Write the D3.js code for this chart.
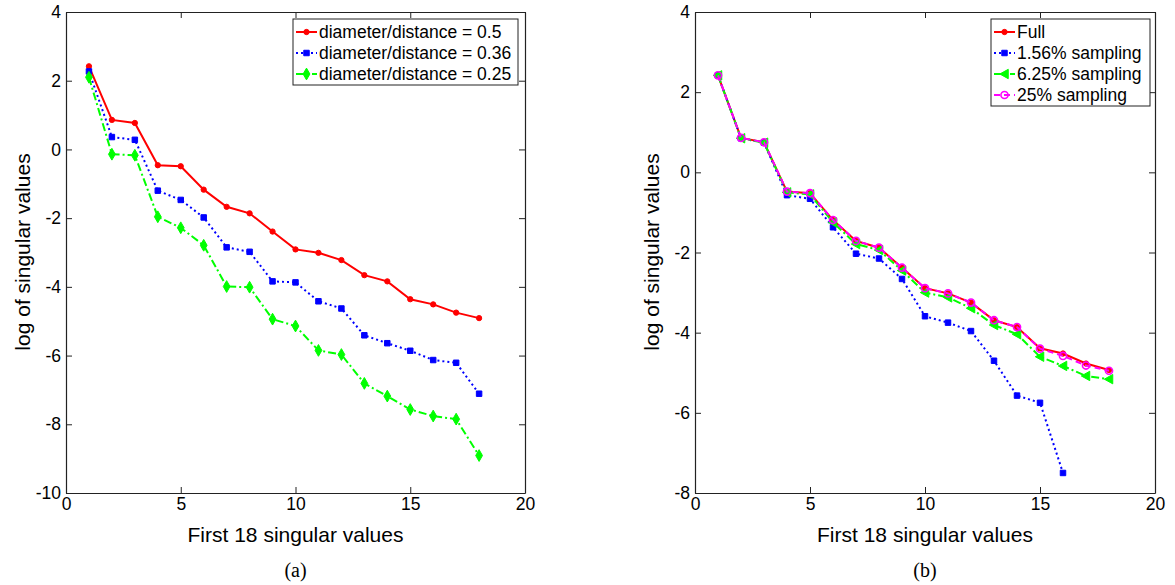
<!DOCTYPE html>
<html>
<head>
<meta charset="utf-8">
<script src="https://cdnjs.cloudflare.com/ajax/libs/d3/7.8.5/d3.min.js"></script>
<style>
  body { margin: 0; background: #fff; }
  text { font-family: "Liberation Sans", Arial, Helvetica, sans-serif; }
</style>
</head>
<body>
<script>
const width = 1175;
const height = 585;

// singular value index 1..18
const idx = d3.range(1, 19);

// panel (a): different diameter/distance ratios
const ratio50 = [2.42, 0.86, 0.77, -0.46, -0.49, -1.17, -1.67, -1.86, -2.39, -2.91, -3.01, -3.22, -3.66, -3.84, -4.36, -4.51, -4.75, -4.91];
const ratio36 = [2.27, 0.36, 0.28, -1.20, -1.47, -1.98, -2.85, -2.98, -3.84, -3.87, -4.42, -4.63, -5.41, -5.64, -5.86, -6.13, -6.21, -7.11];
const ratio25 = [2.10, -0.14, -0.17, -1.96, -2.28, -2.79, -3.99, -4.01, -4.94, -5.14, -5.85, -5.97, -6.81, -7.18, -7.57, -7.76, -7.85, -8.91];

// panel (b): sampling rates
const full = [2.42, 0.86, 0.75, -0.48, -0.52, -1.19, -1.71, -1.88, -2.38, -2.89, -3.02, -3.25, -3.69, -3.86, -4.39, -4.52, -4.77, -4.93];
const samp156 = [2.42, 0.85, 0.74, -0.57, -0.66, -1.37, -2.03, -2.15, -2.66, -3.59, -3.75, -3.96, -4.70, -5.57, -5.75, -7.50];
const samp625 = [2.42, 0.85, 0.74, -0.50, -0.55, -1.25, -1.79, -1.94, -2.45, -3.00, -3.12, -3.39, -3.81, -4.04, -4.60, -4.83, -5.08, -5.16];
const samp25 = [2.42, 0.86, 0.75, -0.48, -0.52, -1.19, -1.71, -1.88, -2.38, -2.89, -3.02, -3.25, -3.69, -3.86, -4.40, -4.58, -4.82, -4.95];

const xTicks = [0, 5, 10, 15, 20];
const yTicksA = [4, 2, 0, -2, -4, -6, -8, -10];
const yTicksB = [4, 2, 0, -2, -4, -6, -8];

const svg = d3.select('body').append('svg')
  .attr('width', width)
  .attr('height', height);

// marker shapes
const leftTri = { draw(ctx, size) { const r = Math.sqrt(size) * 0.7; ctx.moveTo(-r, 0); ctx.lineTo(r * 0.8, -r); ctx.lineTo(r * 0.8, r); ctx.closePath(); } };

const styles = {
  red:     { color: '#ff0000', dash: null,       sym: d3.symbolCircle,  size: 22, fill: true },
  blue:    { color: '#0000ff', dash: '2,3',      sym: d3.symbolSquare,  size: 30, fill: true },
  greenD:  { color: '#00ff00', dash: '8,3,2,3',  sym: d3.symbolDiamond, size: 40, fill: true },
  greenT:  { color: '#00ff00', dash: '8,3,2,3',  sym: leftTri,          size: 45, fill: true },
  magenta: { color: '#ff00ff', dash: '6,4',      sym: d3.symbolCircle,  size: 40, fill: false }
};

const plain = d => String(d); // hyphen minus like the original

function panel(opt) {
  const g = svg.append('g');
  const x = d3.scaleLinear().domain([0, 20]).range([opt.x0, opt.x1]);
  const y = d3.scaleLinear().domain(opt.ydom).range([493, 12]);

  // box with inward ticks on all sides
  g.append('g').attr('transform', `translate(0,493)`)
    .call(d3.axisBottom(x).tickValues(xTicks).tickFormat(plain).tickSize(-6).tickPadding(5).tickSizeOuter(0));
  g.append('g').attr('transform', `translate(0,12)`)
    .call(d3.axisTop(x).tickValues(xTicks).tickSize(-6).tickFormat('').tickSizeOuter(0));
  g.append('g').attr('transform', `translate(${opt.x0},0)`)
    .call(d3.axisLeft(y).tickValues(opt.yticks).tickFormat(plain).tickSize(-6).tickPadding(5).tickSizeOuter(0));
  g.append('g').attr('transform', `translate(${opt.x1},0)`)
    .call(d3.axisRight(y).tickValues(opt.yticks).tickSize(-6).tickFormat('').tickSizeOuter(0));

  g.selectAll('.domain').attr('stroke', '#222').attr('stroke-width', 1.2);
  g.selectAll('.tick line').attr('stroke', '#222');
  g.selectAll('.tick text').attr('font-size', 17.5).attr('fill', '#000')
    .attr('font-family', '"Liberation Sans", Arial, sans-serif');

  opt.series.forEach(s => {
    const st = styles[s.style];
    const pts = s.values.map((v, i) => [idx[i], v]);
    g.append('path')
      .datum(pts)
      .attr('fill', 'none')
      .attr('stroke', st.color)
      .attr('stroke-width', 2)
      .attr('stroke-dasharray', st.dash)
      .attr('d', d3.line().x(d => x(d[0])).y(d => y(d[1])));
    g.selectAll(null).data(pts).enter().append('path')
      .attr('transform', d => `translate(${x(d[0])},${y(d[1])})`)
      .attr('d', d3.symbol().type(st.sym).size(st.size))
      .attr('fill', st.fill ? st.color : 'none')
      .attr('stroke', st.color)
      .attr('stroke-width', st.fill ? 1 : 1.6);
  });

  // legend
  const lg = g.append('g');
  lg.append('rect')
    .attr('x', opt.leg.x).attr('y', 19)
    .attr('width', opt.leg.w).attr('height', opt.leg.h)
    .attr('fill', '#fff').attr('stroke', '#222').attr('stroke-width', 1);
  opt.series.forEach((s, i) => {
    const st = styles[s.style];
    const cy = 32 + i * 21;
    const lx = opt.leg.x + 3;
    lg.append('line')
      .attr('x1', lx).attr('x2', lx + 21).attr('y1', cy).attr('y2', cy)
      .attr('stroke', st.color).attr('stroke-width', 2)
      .attr('stroke-dasharray', st.dash);
    lg.append('path')
      .attr('transform', `translate(${lx + 10.5},${cy})`)
      .attr('d', d3.symbol().type(st.sym).size(st.size))
      .attr('fill', st.fill ? st.color : 'none')
      .attr('stroke', st.color).attr('stroke-width', st.fill ? 1 : 1.6);
    lg.append('text')
      .attr('x', lx + 23).attr('y', cy).attr('dy', '0.36em')
      .attr('font-size', 17.5).text(s.name);
  });

  // labels
  const cx = (opt.x0 + opt.x1) / 2;
  g.append('text')
    .attr('x', cx).attr('y', 542).attr('text-anchor', 'middle')
    .attr('font-size', 21).text('First 18 singular values');
  g.append('text')
    .attr('transform', `translate(${opt.x0 - 36},252) rotate(-90)`)
    .attr('text-anchor', 'middle')
    .attr('font-size', 21).text('log of singular values');
  g.append('text')
    .attr('x', cx).attr('y', 577).attr('text-anchor', 'middle')
    .style('font-family', '"Liberation Serif", "DejaVu Serif", serif')
    .attr('font-size', 20).text(opt.caption);
}

panel({
  x0: 66, x1: 525, ydom: [-10, 4], yticks: yTicksA, caption: '(a)',
  leg: { x: 293, w: 225, h: 66 },
  series: [
    { name: 'diameter/distance = 0.5', values: ratio50, style: 'red' },
    { name: 'diameter/distance = 0.36', values: ratio36, style: 'blue' },
    { name: 'diameter/distance = 0.25', values: ratio25, style: 'greenD' }
  ]
});

panel({
  x0: 695, x1: 1155, ydom: [-8, 4], yticks: yTicksB, caption: '(b)',
  leg: { x: 991, w: 159, h: 87 },
  series: [
    { name: 'Full', values: full, style: 'red' },
    { name: '1.56% sampling', values: samp156, style: 'blue' },
    { name: '6.25% sampling', values: samp625, style: 'greenT' },
    { name: '25% sampling', values: samp25, style: 'magenta' }
  ]
});
</script>
</body>
</html>
